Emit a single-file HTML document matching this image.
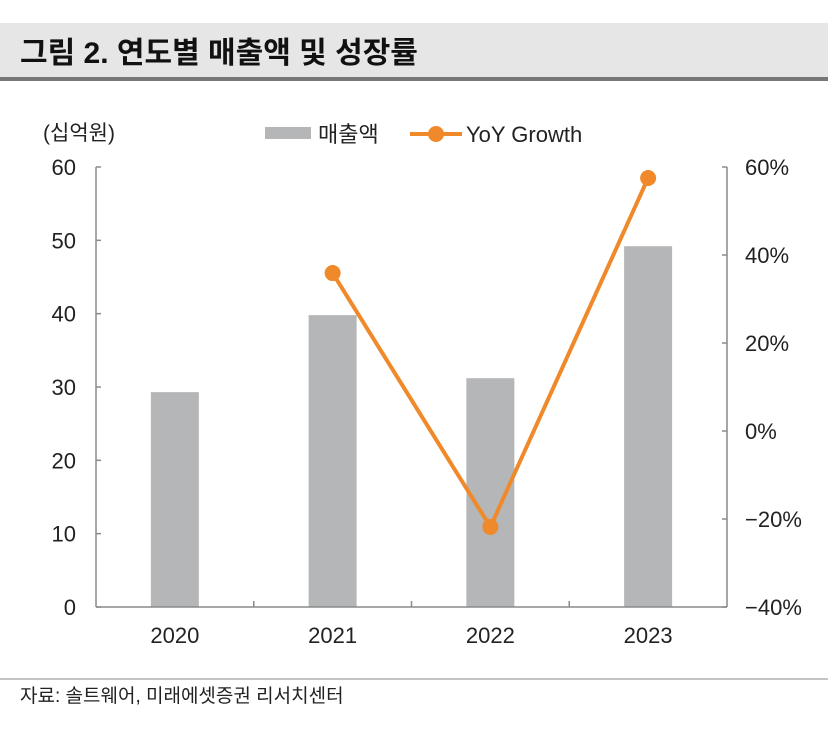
<!DOCTYPE html>
<html><head><meta charset="utf-8"><style>
body{margin:0;width:835px;height:729px;background:#fff;overflow:hidden;font-family:"Liberation Sans","Noto Sans CJK KR",sans-serif;}
</style></head><body>
<svg width="835" height="729" style="position:absolute;left:0;top:0">
<rect x="0" y="23" width="828" height="55" fill="#e6e6e6"/>
<rect x="0" y="77" width="828" height="4" fill="#777"/>
<text x="20" y="63" font-size="30" font-weight="bold" fill="#111" font-family="Liberation Sans, Noto Sans CJK KR, sans-serif">그림 2. 연도별 매출액 및 성장률</text>
<text x="43" y="140" font-size="21" fill="#222">(십억원)</text>
<rect x="265" y="127" width="46" height="12" fill="#b5b6b8"/>
<text x="318" y="142" font-size="22" fill="#222">매출액</text>
<line x1="410" y1="134" x2="462" y2="134" stroke="#f0892a" stroke-width="4"/>
<circle cx="436" cy="134" r="8" fill="#f0892a"/>
<text x="466" y="142" font-size="22" fill="#222">YoY Growth</text>
<g id="plot"></g>
<line x1="0" y1="679" x2="828" y2="679" stroke="#888" stroke-width="1"/>
<text x="20" y="702" font-size="19" fill="#222">자료: 솔트웨어, 미래에셋증권 리서치센터</text>
</svg>
<script>
const categories=["2020","2021","2022","2023"];
const revenue=[29.3,39.8,31.2,49.2];
const yoy=[null,35.9,-21.8,57.5];
const leftTicks=[0,10,20,30,40,50,60];
const rightTicks=[-40,-20,0,20,40,60];
const X0=96,X1=727,Y0=607,Y1=167;
const NS="http://www.w3.org/2000/svg";
const g=document.getElementById('plot');
function yL(v){return Y0-(v/60)*(Y0-Y1);}
function yR(v){return Y0-((v+40)/100)*(Y0-Y1);}
const cw=(X1-X0)/categories.length;
function xC(i){return X0+cw*(i+0.5);}
function mk(t,a){const e=document.createElementNS(NS,t);for(const k in a)e.setAttribute(k,a[k]);g.appendChild(e);return e;}
revenue.forEach((v,i)=>{
 const r=mk('rect',{x:xC(i)-24,y:yL(v),width:48,height:Y0-yL(v),fill:'#b5b6b8'});
 
 
});
const ax='#8a8a8a';
let e=mk('line',{x1:X0,y1:Y1,x2:X0,y2:Y0,stroke:ax,'stroke-width':1.5});

e=mk('line',{x1:X1,y1:Y1,x2:X1,y2:Y0,stroke:ax,'stroke-width':1.5});

e=mk('line',{x1:X0,y1:Y0,x2:X1,y2:Y0,stroke:ax,'stroke-width':1.5});

leftTicks.forEach(v=>{
 mk('line',{x1:X0,y1:yL(v),x2:X0+5,y2:yL(v),stroke:ax,'stroke-width':1.5});
 const t=mk('text',{x:76,y:yL(v)+8,'font-size':22,'text-anchor':'end',fill:'#222'});t.textContent=v;
 
});
rightTicks.forEach(v=>{
 mk('line',{x1:X1,y1:yR(v),x2:X1-5,y2:yR(v),stroke:ax,'stroke-width':1.5});
 const t=mk('text',{x:745,y:yR(v)+8,'font-size':22,fill:'#222'});t.textContent=(v<0?'−':'')+Math.abs(v)+'%';
 
});
for(let i=1;i<categories.length;i++){mk('line',{x1:X0+cw*i,y1:Y0,x2:X0+cw*i,y2:Y0-6,stroke:ax,'stroke-width':1.5});}
categories.forEach((c,i)=>{
 const t=mk('text',{x:xC(i),y:643,'font-size':22,'text-anchor':'middle',fill:'#222'});t.textContent=c;
 
});
const pts=yoy.map((v,i)=>v==null?null:[xC(i),yR(v)]).filter(p=>p);
const pl=mk('polyline',{points:pts.map(p=>p.join(',')).join(' '),fill:'none',stroke:'#f0892a','stroke-width':4});

pts.forEach(p=>{const c=mk('circle',{cx:p[0],cy:p[1],r:8,fill:'#f0892a'});
 });
</script>
</body></html>
